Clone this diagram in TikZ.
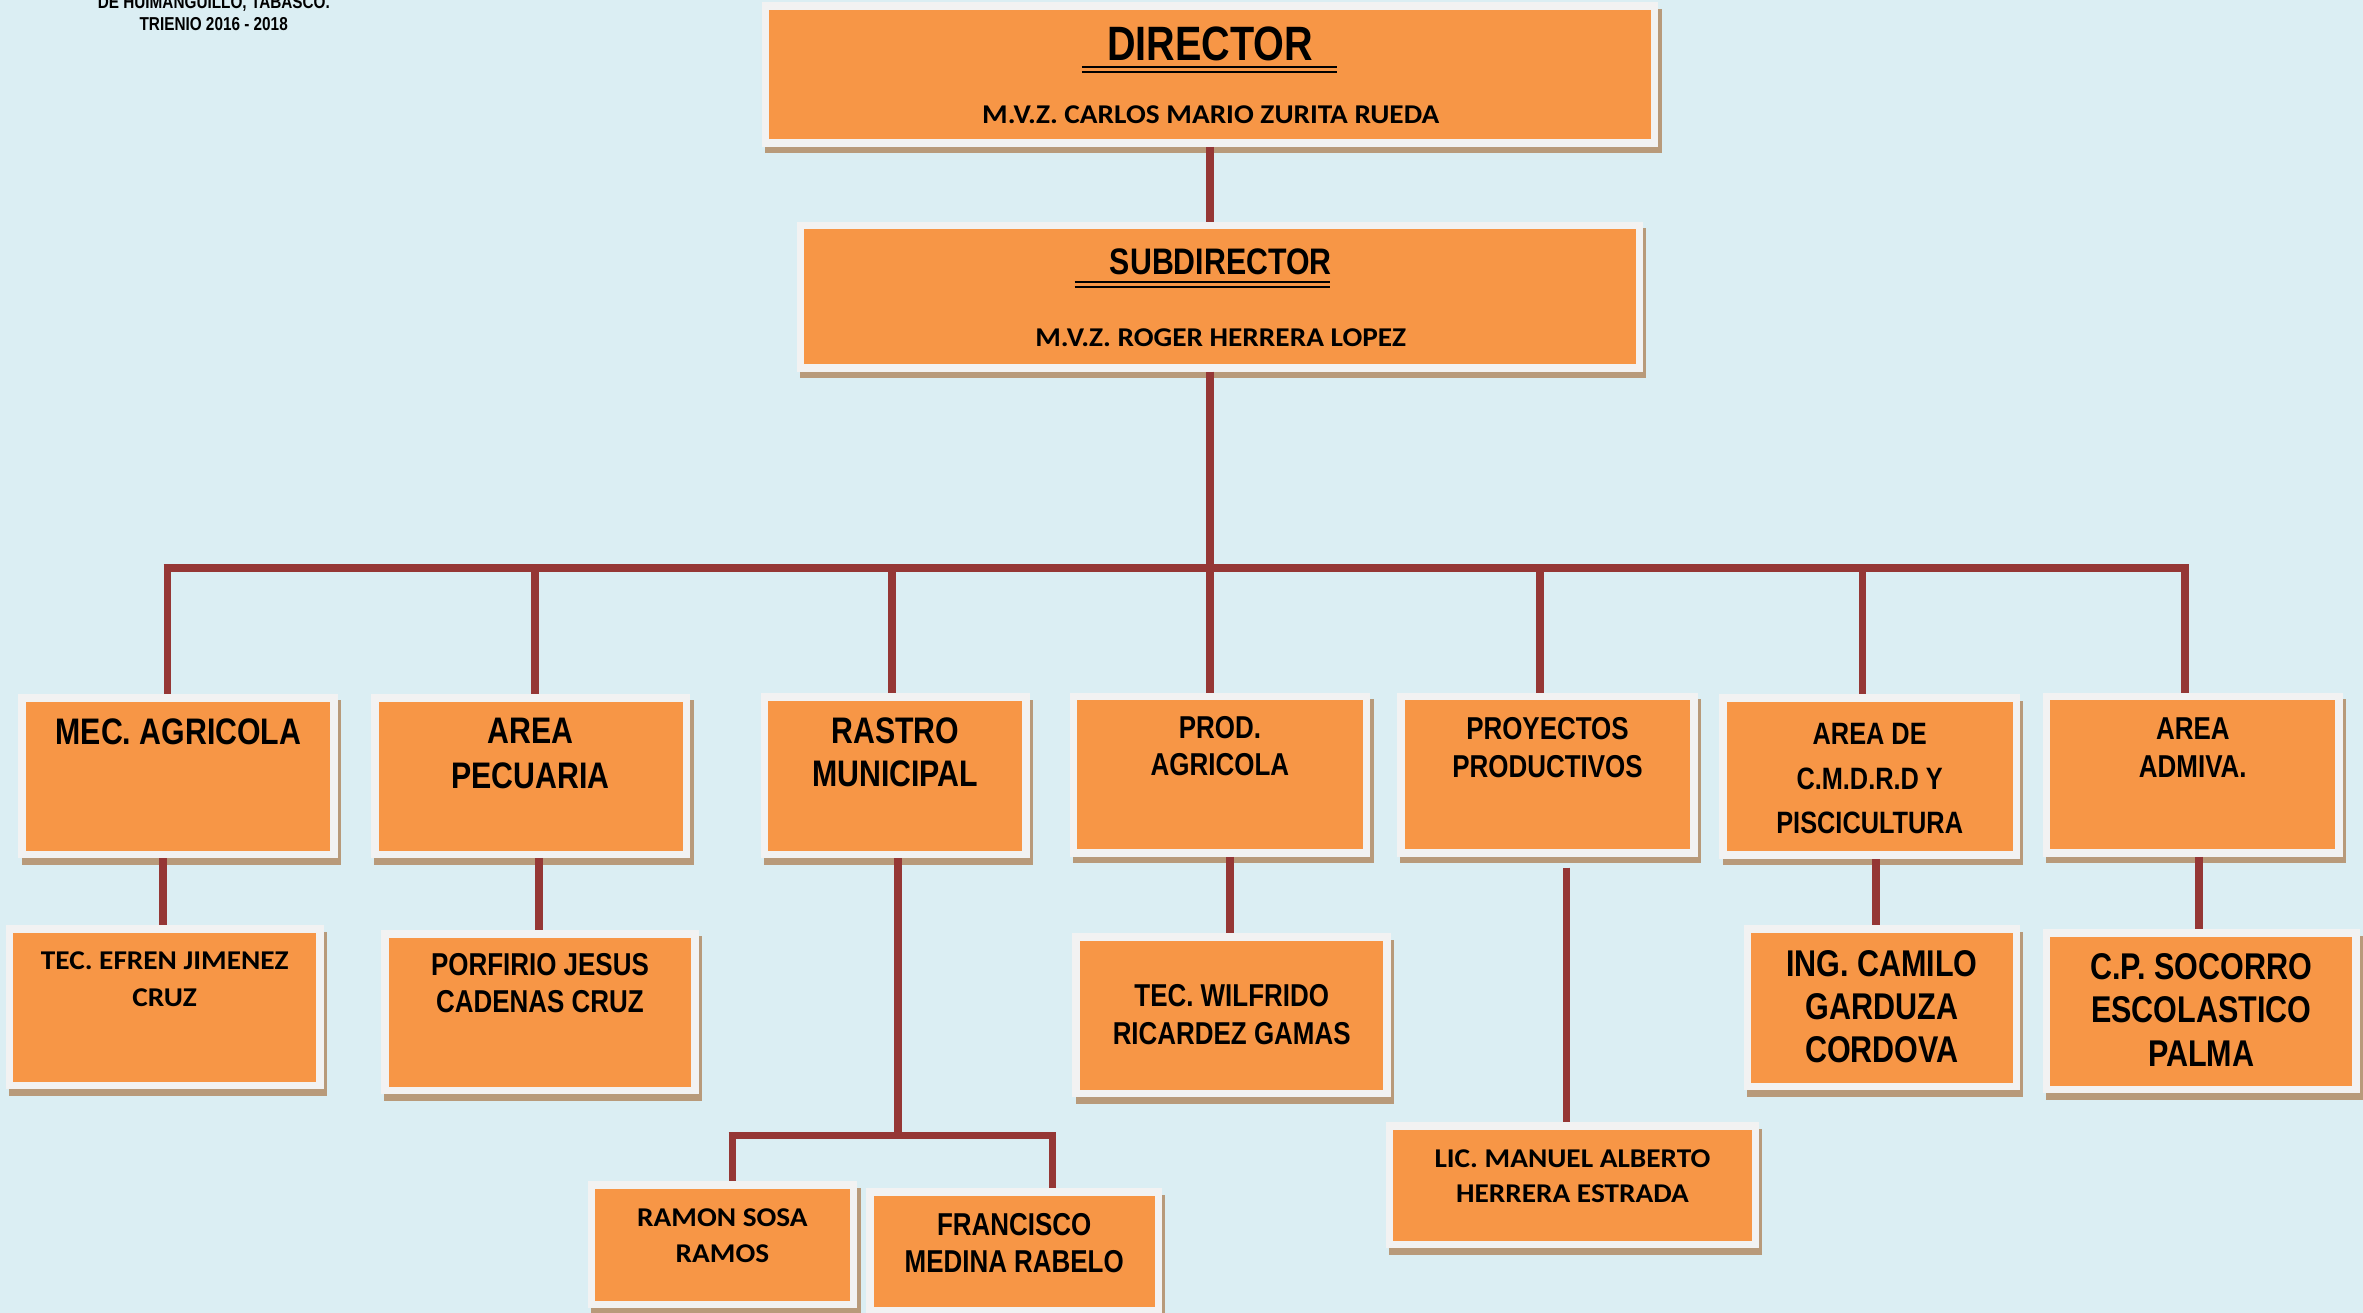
\documentclass[tikz,border=0pt]{standalone}
\usepackage{fontspec}
\usetikzlibrary{shadows}
\newfontfamily\narfam{Liberation Sans}[FakeStretch=0.82]
\newfontfamily\calfam{Carlito}[FakeStretch=1.08]
\newcommand\NarF[2]{\narfam\bfseries\fontsize{#1}{#2}\selectfont}
\newcommand\CalF[2]{\calfam\bfseries\fontsize{#1}{#2}\selectfont}
\definecolor{bgc}{HTML}{DBEEF3}
\definecolor{orangec}{HTML}{F79646}
\definecolor{lightc}{HTML}{F2F2F2}
\definecolor{shadowc}{HTML}{B89A7A}
\definecolor{connc}{HTML}{953735}
\tikzset{
  box/.style={rectangle, draw=lightc, line width=5pt, fill=orangec, inner sep=0pt,
    drop shadow={shadow xshift=2.2pt, shadow yshift=-4.3pt, fill=shadowc, draw=shadowc, line width=5pt, opacity=1}},
  txt/.style={anchor=north, inner sep=0pt, outer sep=0pt, align=center, text=black},
  ttl/.style={anchor=base, inner sep=0pt, outer sep=0pt, text=black, font=\NarF{12.4}{14.9}},
  conn/.style={draw=connc, line width=5pt},
  uline/.style={draw=black, line width=1.3pt},
}
\begin{document}
\begin{tikzpicture}[x=1pt,y=-1pt]
\fill[bgc] (0,0) rectangle (1568,871.2);
\useasboundingbox (0,0) rectangle (1568,871.2);

% title
\node[ttl] (title1) at (141.9,5.5) {DE HUIMANGUILLO, TABASCO.};
\node[ttl] (title2) at (141.8,20.4) {TRIENIO 2016 - 2018};

% boxes
\node[box, minimum width=590pt, minimum height=91pt] (dir) at (803,49.5) {};
\node[box, minimum width=556.5pt, minimum height=94.6pt] (sub) at (809.55,196.8) {};

\node[box, minimum width=206.8pt, minimum height=104.1pt] (mec) at (118.1,515.05) {};
\node[box, minimum width=206.8pt, minimum height=104.1pt] (pec) at (352.1,515.05) {};
\node[box, minimum width=173.4pt, minimum height=104.6pt] (ras) at (594.1,514.8) {};
\node[box, minimum width=194.4pt, minimum height=103.9pt] (prod) at (809.5,514.05) {};
\node[box, minimum width=194.7pt, minimum height=103.9pt] (proy) at (1026.85,514.05) {};
\node[box, minimum width=194.7pt, minimum height=104.2pt] (cmd) at (1240.65,515.4) {};
\node[box, minimum width=193.9pt, minimum height=103.9pt] (adm) at (1455.05,514.05) {};

\node[box, minimum width=206.1pt, minimum height=104.1pt] (efr) at (109.25,668.35) {};
\node[box, minimum width=205.8pt, minimum height=103.9pt] (por) at (358.3,671.55) {};
\node[box, minimum width=206.3pt, minimum height=103.8pt] (wil) at (817.25,673.8) {};
\node[box, minimum width=178.5pt, minimum height=104.5pt] (cam) at (1248.75,668.55) {};
\node[box, minimum width=205.1pt, minimum height=104pt] (soc) at (1460.65,671) {};
\node[box, minimum width=242.8pt, minimum height=78.6pt] (lic) at (1043.4,786.6) {};
\node[box, minimum width=173.8pt, minimum height=79.5pt] (ram) at (479.4,825.95) {};
\node[box, minimum width=191.3pt, minimum height=78.4pt] (fra) at (672.95,830.3) {};

% texts
\node[txt, font=\NarF{32}{36}] (tdir1) at (803,17.7) {DIRECTOR};
\draw[uline] (717.8,44.5) -- (887.2,44.5);
\draw[uline] (717.8,47.7) -- (887.2,47.7);
\node[txt, font=\CalF{18}{22}] (tdir2) at (803.4,70.3) {M.V.Z. CARLOS MARIO ZURITA RUEDA};

\node[txt, font=\NarF{24.5}{28}] (tsub1) at (810,164.8) {SUBDIRECTOR};
\draw[uline] (713.1,186.8) -- (882.6,186.8);
\draw[uline] (713.1,190.2) -- (882.6,190.2);
\node[txt, font=\CalF{18}{22}] (tsub2) at (810,217.9) {M.V.Z. ROGER HERRERA LOPEZ};

\node[txt, font=\NarF{24.5}{29.5}] (tmec) at (118.4,476.7) {MEC. AGRICOLA};
\node[txt, font=\NarF{24.5}{29.5}] (tpec) at (352.1,476.7) {AREA\\PECUARIA};
\node[txt, font=\NarF{24.5}{28.8}] (tras) at (594.1,476.2) {RASTRO\\MUNICIPAL};
\node[txt, font=\NarF{21}{24.8}] (tprod) at (809.5,475.2) {PROD.\\AGRICOLA};
\node[txt, font=\NarF{21}{25}] (tproy) at (1026.85,476.2) {PROYECTOS\\PRODUCTIVOS};
\node[txt, font=\NarF{20.5}{29.5}] (tcmd) at (1240.65,480) {AREA DE\\C.M.D.R.D Y\\PISCICULTURA};
\node[txt, font=\NarF{21}{25}] (tadm) at (1455.05,476.2) {AREA\\ADMIVA.};

\node[txt, font=\CalF{18}{24.3}] (tefr) at (109.3,631.5) {TEC. EFREN JIMENEZ\\CRUZ};
\node[txt, font=\NarF{21}{24.4}] (tpor) at (358.3,632.6) {PORFIRIO JESUS\\CADENAS CRUZ};
\node[txt, font=\NarF{21}{25.5}] (twil) at (817.3,653.2) {TEC. WILFRIDO\\RICARDEZ GAMAS};
\node[txt, font=\NarF{24.7}{28.7}] (tcam) at (1248.75,630.4) {ING. CAMILO\\GARDUZA\\CORDOVA};
\node[txt, font=\NarF{24.7}{28.8}] (tsoc) at (1460.65,632.6) {C.P. SOCORRO\\ESCOLASTICO\\PALMA};
\node[txt, font=\CalF{18}{23.3}] (tlic) at (1043.4,763.1) {LIC. MANUEL ALBERTO\\HERRERA ESTRADA};
\node[txt, font=\CalF{18}{24.4}] (tram) at (479.4,801.8) {RAMON SOSA\\RAMOS};
\node[txt, font=\NarF{21}{24.3}] (tfra) at (673,805.2) {FRANCISCO\\MEDINA RABELO};

% connectors
\draw[conn] (dir.south) -- (dir.south |- sub.north);
\coordinate (busC) at (802.8,376.8);
\draw[conn] (busC |- sub.south) -- (busC);
\coordinate (busL) at (108.6,376.8);
\coordinate (busR) at (1452.6,376.8);
\draw[conn] (busL) -- (busR);
\coordinate (j1) at (111,376.8);
\coordinate (j2) at (355,376.8);
\coordinate (j3) at (592,376.8);
\coordinate (j4) at (803,376.8);
\coordinate (j5) at (1022,376.8);
\coordinate (j6) at (1236,376.8);
\coordinate (j7) at (1450,376.8);
\draw[conn] (j1) -- (j1 |- mec.north);
\draw[conn] (j2) -- (j2 |- pec.north);
\draw[conn] (j3) -- (j3 |- ras.north);
\draw[conn] (j4) -- (j4 |- prod.north);
\draw[conn] (j5) -- (j5 |- proy.north);
\draw[conn] (j6) -- (j6 |- cmd.north);
\draw[conn] (j7) -- (j7 |- adm.north);

\coordinate (k1) at (108.2,600);
\coordinate (k2) at (357.5,600);
\coordinate (k4) at (816.2,600);
\coordinate (k5) at (1039.4,575.7);
\coordinate (k6) at (1245,600);
\coordinate (k7) at (1459.3,600);
\draw[conn] (k1 |- mec.south) -- (k1 |- efr.north);
\draw[conn] (k2 |- pec.south) -- (k2 |- por.north);
\draw[conn] (k4 |- prod.south) -- (k4 |- wil.north);
\draw[conn] (k5) -- (k5 |- lic.north);
\draw[conn] (k6 |- cmd.south) -- (k6 |- cam.north);
\draw[conn] (k7 |- adm.south) -- (k7 |- soc.north);

\coordinate (b2c) at (596,753.4);
\coordinate (b2l) at (483.5,753.4);
\coordinate (b2r) at (700.8,753.4);
\coordinate (b2a) at (486,753.4);
\coordinate (b2b) at (698.3,753.4);
\draw[conn] (b2c |- ras.south) -- (b2c);
\draw[conn] (b2l) -- (b2r);
\draw[conn] (b2a) -- (b2a |- ram.north);
\draw[conn] (b2b) -- (b2b |- fra.north);
\end{tikzpicture}
\end{document}
